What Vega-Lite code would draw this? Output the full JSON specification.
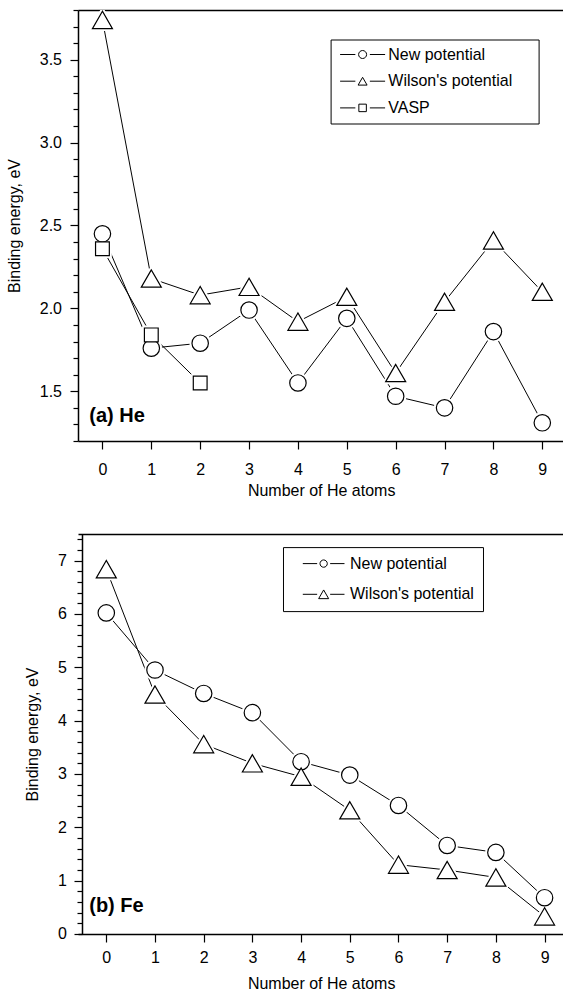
{
  "$schema": "https://vega.github.io/schema/vega-lite/v6.json",
  "padding": {"left": 6, "top": 9, "right": 0, "bottom": 0},
  "config": {
    "font": "Liberation Sans",
    "view": {"stroke": null},
    "axis": {
      "domainColor": "black", "tickColor": "black", "labelColor": "black", "titleColor": "black",
      "labelFontSize": 16, "titleFontSize": 16, "titleFontWeight": "normal",
      "grid": false, "domainWidth": 1.5, "tickWidth": 1.2,
      "labelFlush": false, "labelOverlap": false, "zindex": 1
    }
  },
  "datasets": {
    "he": [
      {"n": 0, "E": 2.45, "series": "New potential"},
      {"n": 1, "E": 1.76, "series": "New potential"},
      {"n": 2, "E": 1.79, "series": "New potential"},
      {"n": 3, "E": 1.99, "series": "New potential"},
      {"n": 4, "E": 1.55, "series": "New potential"},
      {"n": 5, "E": 1.94, "series": "New potential"},
      {"n": 6, "E": 1.47, "series": "New potential"},
      {"n": 7, "E": 1.40, "series": "New potential"},
      {"n": 8, "E": 1.86, "series": "New potential"},
      {"n": 9, "E": 1.31, "series": "New potential"},
      {"n": 0, "E": 3.74, "series": "Wilson's potential"},
      {"n": 1, "E": 2.18, "series": "Wilson's potential"},
      {"n": 2, "E": 2.08, "series": "Wilson's potential"},
      {"n": 3, "E": 2.13, "series": "Wilson's potential"},
      {"n": 4, "E": 1.92, "series": "Wilson's potential"},
      {"n": 5, "E": 2.07, "series": "Wilson's potential"},
      {"n": 6, "E": 1.61, "series": "Wilson's potential"},
      {"n": 7, "E": 2.04, "series": "Wilson's potential"},
      {"n": 8, "E": 2.41, "series": "Wilson's potential"},
      {"n": 9, "E": 2.10, "series": "Wilson's potential"},
      {"n": 0, "E": 2.36, "series": "VASP"},
      {"n": 1, "E": 1.84, "series": "VASP"},
      {"n": 2, "E": 1.55, "series": "VASP"}
    ],
    "fe": [
      {"n": 0, "E": 6.02, "series": "New potential"},
      {"n": 1, "E": 4.95, "series": "New potential"},
      {"n": 2, "E": 4.51, "series": "New potential"},
      {"n": 3, "E": 4.15, "series": "New potential"},
      {"n": 4, "E": 3.23, "series": "New potential"},
      {"n": 5, "E": 2.98, "series": "New potential"},
      {"n": 6, "E": 2.41, "series": "New potential"},
      {"n": 7, "E": 1.66, "series": "New potential"},
      {"n": 8, "E": 1.53, "series": "New potential"},
      {"n": 9, "E": 0.68, "series": "New potential"},
      {"n": 0, "E": 6.84, "series": "Wilson's potential"},
      {"n": 1, "E": 4.49, "series": "Wilson's potential"},
      {"n": 2, "E": 3.56, "series": "Wilson's potential"},
      {"n": 3, "E": 3.20, "series": "Wilson's potential"},
      {"n": 4, "E": 2.95, "series": "Wilson's potential"},
      {"n": 5, "E": 2.32, "series": "Wilson's potential"},
      {"n": 6, "E": 1.30, "series": "Wilson's potential"},
      {"n": 7, "E": 1.20, "series": "Wilson's potential"},
      {"n": 8, "E": 1.06, "series": "Wilson's potential"},
      {"n": 9, "E": 0.33, "series": "Wilson's potential"}
    ]
  },
  "spacing": 35,
  "resolve": {"scale": {"shape": "independent", "size": "independent", "x": "independent", "y": "independent"}, "legend": {"shape": "independent"}},
  "vconcat": [
    {
      "width": 486.3, "height": 431,
      "data": {"name": "he"},
      "resolve": {"axis": {"x": "independent", "y": "independent"}, "scale": {"shape": "independent"}, "legend": {"shape": "independent"}},
      "layer": [
        {
          "mark": {"type": "line", "stroke": "black", "strokeWidth": 1, "clip": true},
          "encoding": {
            "x": {"field": "n", "type": "quantitative", "scale": {"domain": [-0.5, 9.45], "nice": false, "zero": false},
              "axis": {"orient": "bottom", "title": "Number of He atoms", "values": [0,1,2,3,4,5,6,7,8,9], "tickSize": 8, "labelPadding": 12, "titlePadding": 5.5, "labelOverlap": false}},
            "y": {"field": "E", "type": "quantitative", "scale": {"domain": [1.2, 3.8], "nice": false, "zero": false},
              "axis": {"orient": "left", "title": "Binding energy, eV", "values": [1.5, 2.0, 2.5, 3.0, 3.5], "format": ".1f",
                "tickSize": 8, "labelPadding": 8.5, "titlePadding": 16.5, "labelOverlap": false}},
            "detail": {"field": "series"}
          }
        },
        {
          "mark": {"type": "point", "filled": true, "fill": "white", "stroke": "white", "strokeWidth": 5, "strokeJoin": "round", "opacity": 1, "clip": true},
          "encoding": {
            "x": {"field": "n", "type": "quantitative", "scale": {"domain": [-0.5, 9.45], "nice": false, "zero": false}, "axis": null},
            "y": {"field": "E", "type": "quantitative", "scale": {"domain": [1.2, 3.8], "nice": false, "zero": false},
              "axis": {"orient": "left", "title": null, "labels": false, "domain": false, "ticks": true, "tickSize": 5,
                "values": [1.2,1.3,1.4,1.6,1.7,1.8,1.9,2.1,2.2,2.3,2.4,2.6,2.7,2.8,2.9,3.1,3.2,3.3,3.4,3.6,3.7,3.8]}},
            "shape": {"field": "series", "type": "nominal", "scale": {"domain": ["New potential", "Wilson's potential", "VASP"], "range": ["circle", "triangle-up", "square"]}, "legend": null},
            "size": {"field": "series", "type": "nominal", "scale": {"type": "ordinal", "domain": ["VASP", "Wilson's potential", "New potential"], "range": [190, 400, 270]}, "legend": null}
          }
        },
        {
          "mark": {"type": "point", "filled": true, "fill": "white", "stroke": "black", "strokeWidth": 1.2, "opacity": 1, "clip": true},
          "encoding": {
            "x": {"field": "n", "type": "quantitative", "scale": {"domain": [-0.5, 9.45], "nice": false, "zero": false}, "axis": null},
            "y": {"field": "E", "type": "quantitative", "scale": {"domain": [1.2, 3.8], "nice": false, "zero": false}, "axis": null},
            "shape": {"field": "series", "type": "nominal", "scale": {"domain": ["New potential", "Wilson's potential", "VASP"], "range": ["circle", "triangle-up", "square"]}, "legend": null},
            "size": {"field": "series", "type": "nominal", "scale": {"type": "ordinal", "domain": ["VASP", "Wilson's potential", "New potential"], "range": [190, 400, 270]}, "legend": null}
          }
        },
        {
          "data": {"values": []},
          "mark": {"type": "point", "filled": false, "color": "black", "strokeWidth": 1, "opacity": 1},
          "encoding": {
            "shape": {"field": "series", "type": "nominal",
              "scale": {"domain": ["New potential", "Wilson's potential", "VASP"],
                "range": [
                  "M-4.5,0L-1.45,0M1.45,0L4.5,0M0.8,0A0.8,0.8,0,1,1,-0.8,0A0.8,0.8,0,1,1,0.8,0ZM33.4,0",
                  "M-4.5,0L-1.45,0M1.45,0L4.5,0M0,-0.78L0.9,0.78L-0.9,0.78ZM33.4,0",
                  "M-4.5,0L-1.45,0M1.45,0L4.5,0M-0.75,-0.75L0.75,-0.75L0.75,0.75L-0.75,0.75ZM33.4,0"
                ]},
              "legend": {
                "orient": "none", "legendX": 252.6, "legendY": 29.5, "title": null,
                "strokeColor": "black", "padding": 7, "rowPadding": 10.7,
                "labelFontSize": 16, "labelColor": "black",
                "symbolSize": 100, "symbolOffset": 17, "labelOffset": 17.7,
                "symbolStrokeColor": "black", "symbolStrokeWidth": 1, "symbolOpacity": 1
              }}
          }
        },
        {
          "data": {"values": [{"x": -0.27, "y": 1.348, "label": "(a) He"}]},
          "mark": {"type": "text", "align": "left", "baseline": "middle", "fontSize": 20, "fontWeight": "bold", "color": "black"},
          "encoding": {
            "x": {"field": "x", "type": "quantitative", "scale": {"domain": [-0.5, 9.45], "nice": false, "zero": false},
              "axis": {"orient": "top", "ticks": false, "labels": false, "title": null}},
            "y": {"field": "y", "type": "quantitative", "scale": {"domain": [1.2, 3.8], "nice": false, "zero": false}, "axis": null},
            "text": {"field": "label"}
          }
        }
      ]
    },
    {
      "width": 486.3, "height": 400,
      "data": {"name": "fe"},
      "resolve": {"axis": {"x": "independent", "y": "independent"}, "scale": {"shape": "independent"}, "legend": {"shape": "independent"}},
      "layer": [
        {
          "mark": {"type": "line", "stroke": "black", "strokeWidth": 1, "clip": true},
          "encoding": {
            "x": {"field": "n", "type": "quantitative", "scale": {"domain": [-0.581, 9.405], "nice": false, "zero": false},
              "axis": {"orient": "bottom", "title": "Number of He atoms", "values": [0,1,2,3,4,5,6,7,8,9], "tickSize": 8, "labelPadding": 8, "titlePadding": 10, "labelOverlap": false}},
            "y": {"field": "E", "type": "quantitative", "scale": {"domain": [0, 7.5], "nice": false, "zero": false},
              "axis": {"orient": "left", "title": "Binding energy, eV", "offset": -4, "values": [0,1,2,3,4,5,6,7], "format": "d",
                "tickSize": 8, "labelPadding": 7.7, "titlePadding": 16.5, "labelOverlap": false}},
            "detail": {"field": "series"}
          }
        },
        {
          "mark": {"type": "point", "filled": true, "fill": "white", "stroke": "white", "strokeWidth": 5, "strokeJoin": "round", "opacity": 1, "clip": true},
          "encoding": {
            "x": {"field": "n", "type": "quantitative", "scale": {"domain": [-0.581, 9.405], "nice": false, "zero": false}, "axis": null},
            "y": {"field": "E", "type": "quantitative", "scale": {"domain": [0, 7.5], "nice": false, "zero": false},
              "axis": {"orient": "left", "offset": -4, "title": null, "labels": false, "domain": false, "ticks": true, "tickSize": 5,
                "values": [0.2,0.4,0.6,0.8,1.2,1.4,1.6,1.8,2.2,2.4,2.6,2.8,3.2,3.4,3.6,3.8,4.2,4.4,4.6,4.8,5.2,5.4,5.6,5.8,6.2,6.4,6.6,6.8,7.2,7.4]}},
            "shape": {"field": "series", "type": "nominal", "scale": {"domain": ["New potential", "Wilson's potential"], "range": ["circle", "triangle-up"]}, "legend": null},
            "size": {"field": "series", "type": "nominal", "scale": {"type": "ordinal", "domain": ["Wilson's potential", "New potential"], "range": [400, 270]}, "legend": null}
          }
        },
        {
          "mark": {"type": "point", "filled": true, "fill": "white", "stroke": "black", "strokeWidth": 1.2, "opacity": 1, "clip": true},
          "encoding": {
            "x": {"field": "n", "type": "quantitative", "scale": {"domain": [-0.581, 9.405], "nice": false, "zero": false}, "axis": null},
            "y": {"field": "E", "type": "quantitative", "scale": {"domain": [0, 7.5], "nice": false, "zero": false}, "axis": null},
            "shape": {"field": "series", "type": "nominal", "scale": {"domain": ["New potential", "Wilson's potential"], "range": ["circle", "triangle-up"]}, "legend": null},
            "size": {"field": "series", "type": "nominal", "scale": {"type": "ordinal", "domain": ["Wilson's potential", "New potential"], "range": [400, 270]}, "legend": null}
          }
        },
        {
          "data": {"values": []},
          "mark": {"type": "point", "filled": false, "color": "black", "strokeWidth": 1, "opacity": 1},
          "encoding": {
            "shape": {"field": "series", "type": "nominal",
              "scale": {"domain": ["New potential", "Wilson's potential"],
                "range": [
                  "M-4.17,0L-1.3,0M1.3,0L4.17,0M0.73,0A0.73,0.73,0,1,1,-0.73,0A0.73,0.73,0,1,1,0.73,0Z",
                  "M-4.17,0L-1.3,0M1.3,0L4.17,0M0,-0.87L1,0.87L-1,0.87Z"
                ]},
              "legend": {
                "orient": "none", "legendX": 205, "legendY": 13.1, "title": null,
                "strokeColor": "black", "padding": 8.5, "rowPadding": 14.7,
                "labelFontSize": 16, "labelColor": "black",
                "symbolSize": 100, "symbolOffset": 24.15, "labelOffset": 18.35,
                "symbolStrokeColor": "black", "symbolStrokeWidth": 1, "symbolOpacity": 1
              }}
          }
        },
        {
          "data": {"values": [{"x": -0.35, "y": 0.516, "label": "(b) Fe"}]},
          "mark": {"type": "text", "align": "left", "baseline": "middle", "fontSize": 20, "fontWeight": "bold", "color": "black"},
          "encoding": {
            "x": {"field": "x", "type": "quantitative", "scale": {"domain": [-0.581, 9.405], "nice": false, "zero": false},
              "axis": {"orient": "top", "ticks": false, "labels": false, "title": null}},
            "y": {"field": "y", "type": "quantitative", "scale": {"domain": [0, 7.5], "nice": false, "zero": false}, "axis": null},
            "text": {"field": "label"}
          }
        }
      ]
    }
  ]
}
